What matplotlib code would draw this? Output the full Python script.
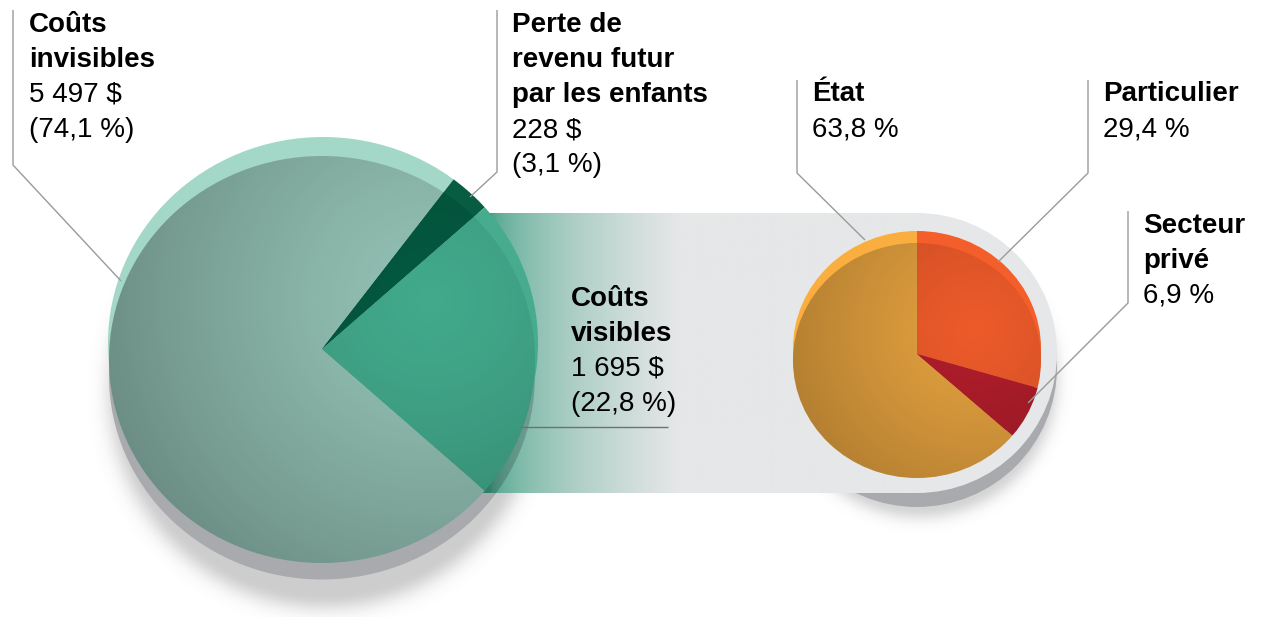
import numpy as np
import matplotlib.pyplot as plt
from matplotlib.patches import Ellipse, Circle, Rectangle
from matplotlib.colors import to_rgb

W, H = 1264, 617

# ── Data ──────────────────────────────────────────────────────────────────────
LEFT_NAMES   = ["Coûts\ninvisibles", "Perte de\nrevenu futur\npar les enfants", "Coûts\nvisibles"]
LEFT_AMOUNTS = [5497, 228, 1695]
LEFT_SHARES  = [74.1, 3.1, 22.8]
RIGHT_NAMES  = ["État", "Particulier", "Secteur\nprivé"]
RIGHT_SHARES = [63.8, 29.4, 6.9]

# ── Style ─────────────────────────────────────────────────────────────────────
LEFT_COLORS  = ["#93c1b4", "#04593f", "#42a98b"]
LEFT_RIM     = ["#a3d8c9", "#075c42", "#47ab8d"]
RIGHT_COLORS = ["#e2a03e", "#ec5a2a", "#b01d2b"]
RIGHT_RIM    = ["#fbae40", "#f35e2b", "#b01d2b"]
BAND_GREEN   = "#3b9d80"
BAND_GREY    = "#e6e7e8"
SHADOW_GREY  = "#a9aaad"
LEADER       = "#9a9a9a"
FONT         = "Liberation Sans"
FS           = 20
LINE         = 35

fig = plt.figure(figsize=(W / 100, H / 100), dpi=100)
ax = fig.add_axes([0, 0, 1, 1])


def py(y):
    # picture rows -> data y (y up)
    return H - y


def soft_shadow(cx, cy, r, fade, alpha, z):
    x0, x1 = cx - r - 4 * fade, cx + r + 4 * fade
    y0, y1 = py(cy) - r - 4 * fade, py(cy) + r + 4 * fade
    n = 300
    X, Y = np.meshgrid(np.linspace(x0, x1, n), np.linspace(y0, y1, n))
    d = np.hypot(X - cx, Y - py(cy)) - r
    img = np.zeros((n, n, 4))
    img[..., :3] = 0.45
    img[..., 3] = alpha * np.exp(-np.clip(d, 0, None) ** 2 / (2 * fade ** 2))
    ax.imshow(img, extent=(x0, x1, y0, y1), origin="lower", zorder=z,
              interpolation="bilinear")


def shade(clip, cx, cy, rx, ry, hx, hy, dmax, amax, z):
    x0, x1, y0, y1 = cx - rx, cx + rx, cy - ry, cy + ry
    n = 400
    X, Y = np.meshgrid(np.linspace(x0, x1, n), np.linspace(y0, y1, n))
    d = np.clip(np.hypot(X - hx, Y - hy) / dmax, 0, 1)
    img = np.zeros((n, n, 4))
    img[..., 3] = amax * d ** 1.3
    im = ax.imshow(img, extent=(x0, x1, y0, y1), origin="lower", zorder=z,
                   interpolation="bilinear")
    im.set_clip_path(clip)


def draw_pie(values, colors, rim_colors, vertex, face_c, face_wh, rim_c, rim_wh,
             start, light, dmax, amax):
    vx, vy = vertex[0], py(vertex[1])
    layers = [(rim_c, rim_wh, rim_colors, 4), (face_c, face_wh, colors, 5)]
    for (cx, cy), (ew, eh), cols, z in layers:
        ell = Ellipse((cx, py(cy)), ew, eh, transform=ax.transData)
        wedges, _ = ax.pie(values, colors=cols, startangle=start,
                           counterclock=False, center=(vx, vy),
                           radius=max(ew, eh), wedgeprops=dict(linewidth=0))
        for w in wedges:
            w.set_clip_on(True)
            w.set_clip_path(ell)
            w.set_zorder(z)
    shade(ell, face_c[0], py(face_c[1]), face_wh[0] / 2, face_wh[1] / 2,
          light[0], py(light[1]), dmax, amax, 6)


# ── Soft shadows and grey bases ───────────────────────────────────────────────
soft_shadow(325, 392, 203, 12, 0.35, 1)
soft_shadow(920, 380, 128, 9, 0.30, 1)

left_shadow = dict(xy=(322, py(376)), width=426, height=407)
ax.add_patch(Ellipse(**left_shadow, facecolor=SHADOW_GREY,
                     edgecolor="none", zorder=2))
ax.add_patch(Circle((917, py(367)), 140, facecolor=SHADOW_GREY,
                    edgecolor="none", zorder=2))

# ── Connecting band (green -> grey) ──────────────────────────────────────────
ax.add_patch(Circle((917, py(353)), 140, facecolor=BAND_GREY,
                    edgecolor="none", zorder=3))
bx0, bx1, by0, by1 = 470, 918, py(493), py(213)
xs = np.linspace(bx0, bx1, 500)
t = np.clip((xs - 490) / 190, 0, 1) ** 0.5
g0, g1 = np.array(to_rgb(BAND_GREEN)), np.array(to_rgb(BAND_GREY))
band = (1 - t)[:, None] * g0 + t[:, None] * g1
ax.imshow(band[None, :, :].repeat(2, axis=0), extent=(bx0, bx1, by0, by1),
          origin="lower", zorder=3, aspect="auto", interpolation="bilinear")

# translucent part of the left shadow that falls over the band
band_clip = Rectangle((bx0, by0), bx1 - bx0, by1 - by0, transform=ax.transData)
over = Ellipse(**left_shadow, facecolor="black", alpha=0.18,
               edgecolor="none", zorder=3.5)
ax.add_patch(over)
over.set_clip_path(band_clip)

# ── Pies ──────────────────────────────────────────────────────────────────────
left_start = -0.5 * 360 * LEFT_SHARES[2] / sum(LEFT_SHARES)
draw_pie(LEFT_SHARES, LEFT_COLORS, LEFT_RIM, vertex=(322, 349),
         face_c=(322, 359.5), face_wh=(426, 407),
         rim_c=(323, 343), rim_wh=(430, 412),
         start=left_start, light=(430, 300), dmax=330, amax=0.26)

right_start = 90 + 360 * RIGHT_SHARES[0] / sum(RIGHT_SHARES)
draw_pie(RIGHT_SHARES, RIGHT_COLORS, RIGHT_RIM, vertex=(917, 354),
         face_c=(917, 360.5), face_wh=(248, 235),
         rim_c=(917, 348.5), rim_wh=(248, 235),
         start=right_start, light=(975, 330), dmax=200, amax=0.22)

# ── Leader lines ──────────────────────────────────────────────────────────────
leaders = [
    ([13, 13, 121], [10, 165, 281], LEADER),
    ([497, 497, 470], [10, 172, 197], LEADER),
    ([520, 668], [427, 427], "#707070"),
    ([797, 797, 865], [80, 173, 240], LEADER),
    ([1088, 1088, 998], [80, 173, 262], LEADER),
    ([1128, 1128, 1028], [211, 303, 403], LEADER),
]
for lx, ly, c in leaders:
    ax.plot(lx, [py(v) for v in ly], color=c, lw=1.0, zorder=8,
            solid_capstyle="butt")


# ── Labels ────────────────────────────────────────────────────────────────────
def label(x, y0, bold_lines, plain_lines):
    for i, s in enumerate(bold_lines + plain_lines):
        ax.text(x, py(y0 + i * LINE), s, fontsize=FS, family=FONT,
                fontweight="bold" if i < len(bold_lines) else "normal",
                ha="left", va="baseline", color="black", zorder=10)


def money(v):
    return f"{v:,} $".replace(",", " ")


def pct(v):
    return f"{v:.1f} %".replace(".", ",")


LEFT_POS = [(29, 32), (512, 32), (571, 306)]
for (x, y), name, amt, sh in zip(LEFT_POS, LEFT_NAMES, LEFT_AMOUNTS, LEFT_SHARES):
    label(x, y, name.split("\n"), [money(amt), f"({pct(sh)})"])

RIGHT_POS = [(812, 101), (1103, 101), (1143, 233)]
for (x, y), name, sh in zip(RIGHT_POS, RIGHT_NAMES, RIGHT_SHARES):
    label(x, y, name.split("\n"), [pct(sh)])

ax.set_xlim(0, W)
ax.set_ylim(0, H)
ax.set_aspect("equal")
ax.axis("off")

fig.savefig("out.png", dpi=100, facecolor="white")
